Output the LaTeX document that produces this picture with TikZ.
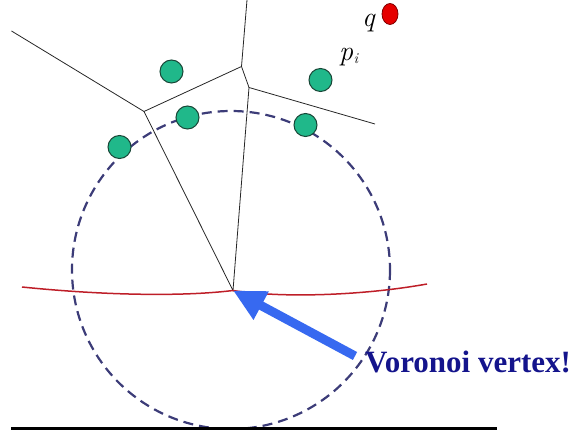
\documentclass[tikz,border=0pt]{standalone}
\usepackage{fontspec}
\newfontfamily\tagfont{Liberation Serif}
\usetikzlibrary{arrows.meta,shapes.geometric}

\definecolor{siteGreen}{RGB}{32,184,138}
\definecolor{siteEdge}{RGB}{25,70,55}
\definecolor{circBlue}{RGB}{60,60,120}
\definecolor{beachRed}{RGB}{190,30,40}
\definecolor{arrowBlue}{RGB}{55,105,240}
\definecolor{tagNavy}{RGB}{20,20,140}

\begin{document}
\begin{tikzpicture}[x=1pt,y=-1pt,
  site/.style={circle,draw=siteEdge,fill=siteGreen,line width=1pt,
    minimum size=23pt,inner sep=0pt},
  vedge/.style={black!85,line width=0.8pt},
  symlabel/.style={inner sep=0pt,font=\itshape\fontsize{28}{32}\selectfont}]
\useasboundingbox (0,0) rectangle (579,430);
% Voronoi vertices and free ends of the edges
\coordinate (A) at (144,111.5);
\coordinate (B) at (241.5,66.5);
\coordinate (C) at (249,87.5);
\coordinate (V) at (233,290.5);
\coordinate (eL) at (11.5,31);
\coordinate (eT) at (247,0);
\coordinate (eR) at (375,124);
% Voronoi edges
\draw[vedge] (eL) -- (A) -- (B) -- (eT);
\draw[vedge] (B) -- (C) -- (eR);
\draw[vedge] (A) -- (V) -- (C);
% empty circle through the sites
\draw[circBlue, line width=2.2pt, dash pattern=on 10pt off 6pt]
  (231,270) circle (159);
% sites
\foreach \n/\x/\y in {1/171.5/71.5, 2/320.5/80, 3/187.5/117.5, 4/305.5/125, 5/119.5/147}
  \node[site] (s\n) at (\x,\y) {};
\node[ellipse,draw=red!50!black,fill=red!90!black,line width=0.8pt,
  minimum width=16pt,minimum height=21pt,inner sep=0pt] (q) at (390,14) {};
\node[symlabel, anchor=base] (qlabel) at (368.5,27) {q};
\node[symlabel, anchor=base west] (plabel) at (339,61)
  {p\kern0.5pt\raisebox{-3pt}{\fontsize{15}{17}\selectfont i}};
% beach line
\draw[beachRed, line width=1.5pt]
  (22,287) .. controls (100,295) and (180,297) .. (V)
  .. controls (280,298) and (360,296) .. (427,284);
% bottom line
\draw[black, line width=3.5pt] (11,428.5) -- (497,428.5);
% label and arrow
\node[anchor=base west, inner sep=0pt, text=tagNavy,
  font=\tagfont\bfseries\fontsize{31}{35}\selectfont] (tag) at (365,373) {Voronoi vertex!};
\coordinate (tail) at (355,356);
\draw[arrowBlue, line width=9pt, -{Triangle[length=32pt,width=30pt]}] (tail) -- (V);
\end{tikzpicture}
\end{document}
